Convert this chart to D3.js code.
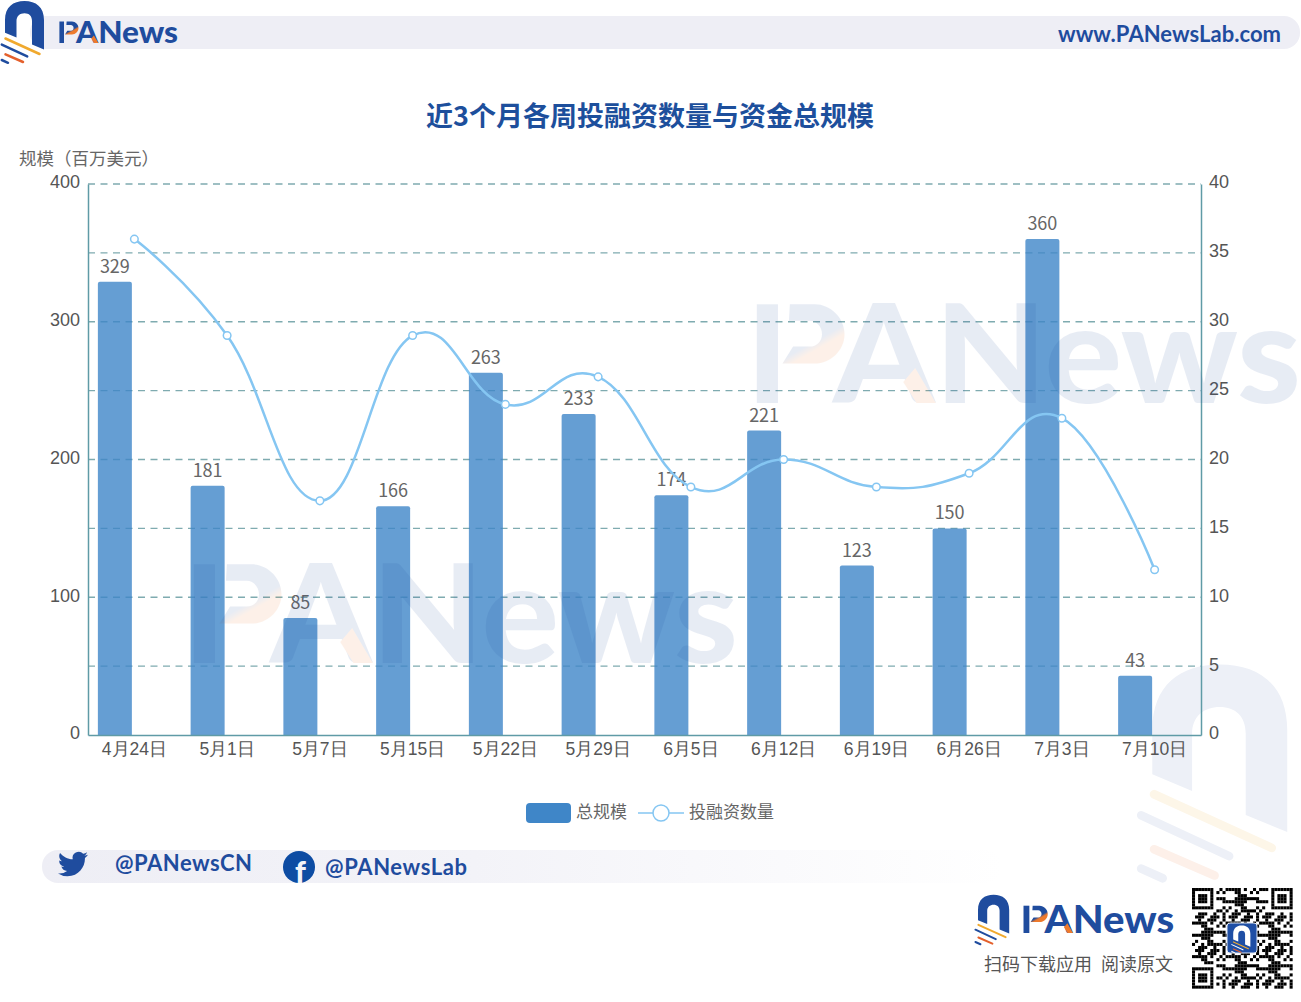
<!doctype html>
<html lang="zh">

<head>
    <meta charset="utf-8">
    <title>近3个月各周投融资数量与资金总规模</title>
    <style>
        html, body {
            margin: 0;
            padding: 0;
            background: white;
        }

        svg {
            display: block;
            font-family: 'Noto Sans CJK SC', sans-serif;
        }

        .axis text {
            font-size: 18px;
            fill: #555;
        }

        .axis.bottom text {
            font-size: 17.5px;
        }

        .axis path {
            stroke: #5f9ba6;
            stroke-width: 1.5;
        }
    </style>
</head>

<body>
    <svg id="chart" width="1301" height="1002"></svg>
    <script src="https://d3js.org/d3.v7.min.js"></script>
    <script>
        var categories = ["4月24日", "5月1日", "5月7日", "5月15日", "5月22日", "5月29日", "6月5日", "6月12日", "6月19日", "6月26日", "7月3日", "7月10日"];
        var totalScale = [329, 181, 85, 166, 263, 233, 174, 221, 123, 150, 360, 43];
        var dealCount = [36, 29, 17, 29, 24, 26, 18, 20, 18, 19, 23, 12];
        var leftTicks = [0, 100, 200, 300, 400];
        var rightTicks = [0, 5, 10, 15, 20, 25, 30, 35, 40];

        var blue = "#1f4c9e";
        var orange = "#ee7a2c";
        var svg = d3.select("#chart");
        var defs = svg.append("defs");

        var margin = { top: 184, right: 100, bottom: 267, left: 88 };
        var width = 1301 - margin.left - margin.right;
        var height = 1002 - margin.top - margin.bottom;

        var x = d3.scaleBand().domain(categories).range([0, width]);
        var yLeft = d3.scaleLinear().domain([0, 400]).range([height, 0]);
        var yRight = d3.scaleLinear().domain([0, 40]).range([height, 0]);

        // bars sit left of the category centre, the line points on it
        var barWidth = 34;
        var barShift = 19.5;

        function pointX(d) { return x(d) + x.bandwidth() / 2; }
        function barX(d) { return pointX(d) - barShift - barWidth / 2; }

        // logo arch and stripes, drawn in a 50 x 65 box
        function logo(parent, tx, ty, k, colors) {
            var g = parent.append("g")
                .attr("transform", "translate(" + tx + "," + ty + ") scale(" + k + ")");
            g.append("path")
                .attr("fill", colors[0])
                .attr("d", "M5 32.700 V20 C5 7 13 1 24.500 1 C36 1 44 7 44 20 V49.400 L32 44.500 V21 C32 16 29 13.300 24.500 13.300 C20 13.300 16.500 16 16.500 21 V37.600 Z");
            var stripes = [
                [5.500, 38.500, 39.500, 54, colors[1]],
                [1.800, 44.600, 27.200, 56.400, colors[0]],
                [5.500, 54.400, 23, 62, colors[2]],
                [1.800, 60, 8, 62.800, colors[0]]
            ];
            stripes.forEach(function (s) {
                g.append("line")
                    .attr("x1", s[0]).attr("y1", s[1])
                    .attr("x2", s[2]).attr("y2", s[3])
                    .attr("stroke", s[4])
                    .attr("stroke-width", 2.5)
                    .attr("stroke-linecap", "round");
            });
        }

        // bowl of the P turns from blue to orange along a diagonal
        var bowl = defs.append("linearGradient")
            .attr("id", "bowl")
            .attr("gradientUnits", "userSpaceOnUse")
            .attr("x1", 10.5).attr("y1", -16.3)
            .attr("x2", 15).attr("y2", -8.3);
        bowl.append("stop").attr("offset", "0.4").attr("stop-color", blue);
        bowl.append("stop").attr("offset", "0.6").attr("stop-color", orange);

        // PANews word: P is drawn, the rest is text. Box is 119 wide at k = 1
        function wordmark(parent, tx, baseline, k) {
            var g = parent.append("g").attr("transform", "translate(" + tx + "," + baseline + ") scale(" + k + ")");
            g.append("rect").attr("x", 0.400).attr("y", -21.500).attr("width", 4.600).attr("height", 21.500).attr("fill", blue);
            g.append("path")
                .attr("fill", "url(#bowl)")
                .attr("d", "M7.600 -21.500 H13 C16.500 -21.500 19.500 -18.500 19.500 -15 C19.500 -11.500 16.500 -8.600 13 -8.600 H6 L8.300 -12.300 H11.900 C13.500 -12.300 14.600 -13.500 14.600 -15 C14.600 -16.500 13.500 -17.900 11.900 -17.900 H7.400 Z");
            g.append("text")
                .attr("x", 17)
                .attr("font-family", "Lato, sans-serif")
                .attr("font-weight", 900)
                .attr("font-size", 30)
                .attr("fill", blue)
                .attr("textLength", 102)
                .attr("lengthAdjust", "spacingAndGlyphs")
                .text("ANews");
            g.append("path")
                .attr("fill", orange)
                .attr("d", "M32.300 -4.600 L34.900 -7.600 L39.400 0 L35.200 0 Z");
        }

        // header band
        svg.append("rect").attr("x", 30).attr("y", 16).attr("width", 1270).attr("height", 33).attr("rx", 16).attr("fill", "#eeeef5");
        logo(svg, 0, 0, 1, [blue, "#f0a92e", "#e4602c"]);
        wordmark(svg, 59, 43, 1);
        svg.append("text")
            .attr("x", 1281).attr("y", 42)
            .attr("text-anchor", "end")
            .attr("font-family", "Lato, sans-serif")
            .attr("font-weight", 700)
            .attr("font-size", 22)
            .attr("fill", blue)
            .attr("textLength", 223)
            .attr("lengthAdjust", "spacing")
            .text("www.PANewsLab.com");

        // big faint logo at the lower right
        logo(svg, 1135, 661, 3.46, ["#edf0f7", "#fdf6e8", "#fdf0e9"]);

        // title
        svg.append("text")
            .attr("x", 650).attr("y", 126)
            .attr("text-anchor", "middle")
            .attr("font-weight", 700)
            .attr("font-size", 27)
            .attr("fill", "#1d4f9c")
            .text("近3个月各周投融资数量与资金总规模");

        svg.append("text")
            .attr("x", 19).attr("y", 165)
            .attr("font-size", 17.500)
            .attr("fill", "#666")
            .text("规模（百万美元）");

        var plot = svg.append("g").attr("transform", "translate(" + margin.left + "," + margin.top + ")");

        plot.selectAll(".grid")
            .data(rightTicks.slice(1))
            .join("line")
            .attr("class", "grid")
            .attr("x1", 0)
            .attr("x2", width)
            .attr("y1", function (d) { return yRight(d); })
            .attr("y2", function (d) { return yRight(d); })
            .attr("stroke", "#7fabb0")
            .attr("stroke-width", 1.4)
            .attr("stroke-dasharray", "7 5.500");

        plot.selectAll(".bar")
            .data(categories)
            .join("path")
            .attr("class", "bar")
            .attr("fill", "#3f86c8")
            .attr("fill-opacity", 0.8)
            .attr("d", function (d, i) {
                var bx = barX(d), top = yLeft(totalScale[i]);
                return "M" + bx + " " + height + "V" + (top + 2) + "Q" + bx + " " + top + " " + (bx + 2) + " " + top +
                    "H" + (bx + barWidth - 2) + "Q" + (bx + barWidth) + " " + top + " " + (bx + barWidth) + " " + (top + 2) + "V" + height + "Z";
            });

        plot.selectAll(".bar-label")
            .data(categories)
            .join("text")
            .attr("class", "bar-label")
            .attr("x", function (d) { return barX(d) + barWidth / 2; })
            .attr("y", function (d, i) { return yLeft(totalScale[i]) - 9; })
            .attr("text-anchor", "middle")
            .attr("font-size", 18)
            .attr("fill", "#666")
            .text(function (d, i) { return totalScale[i]; });

        var line = d3.line()
            .x(function (d, i) { return pointX(categories[i]); })
            .y(function (d) { return yRight(d); })
            .curve(d3.curveCardinal.tension(-0.3));

        plot.append("path")
            .datum(dealCount)
            .attr("fill", "none")
            .attr("stroke", "#85c6f2")
            .attr("stroke-width", 2.5)
            .attr("d", line);

        plot.selectAll(".point")
            .data(dealCount)
            .join("circle")
            .attr("class", "point")
            .attr("cx", function (d, i) { return pointX(categories[i]); })
            .attr("cy", function (d) { return yRight(d); })
            .attr("r", 3.8)
            .attr("fill", "white")
            .attr("stroke", "#85c6f2")
            .attr("stroke-width", 1.5);

        plot.append("g")
            .attr("class", "axis bottom")
            .attr("transform", "translate(0," + height + ")")
            .call(d3.axisBottom(x).tickSize(0).tickPadding(8));

        plot.append("g")
            .attr("class", "axis side")
            .call(d3.axisLeft(yLeft).tickValues(leftTicks).tickSize(0).tickPadding(8));

        plot.append("g")
            .attr("class", "axis side")
            .attr("transform", "translate(" + width + ",0)")
            .call(d3.axisRight(yRight).tickValues(rightTicks).tickSize(0).tickPadding(8));

        plot.selectAll(".side text").attr("dy", "0.22em");

        // legend
        var legend = svg.append("g");
        legend.append("rect").attr("x", 526).attr("y", 803).attr("width", 45).attr("height", 20).attr("rx", 4).attr("fill", "#3f86c8");
        legend.append("text").attr("x", 576).attr("y", 818).attr("font-size", 17).attr("fill", "#666").text("总规模");
        legend.append("line").attr("x1", 638).attr("x2", 684).attr("y1", 813).attr("y2", 813).attr("stroke", "#85c6f2").attr("stroke-width", 1.5);
        legend.append("circle").attr("cx", 661).attr("cy", 813).attr("r", 8).attr("fill", "white").attr("stroke", "#85c6f2").attr("stroke-width", 1.5);
        legend.append("text").attr("x", 689).attr("y", 818).attr("font-size", 17).attr("fill", "#666").text("投融资数量");

        // footer social band
        var fade = defs.append("linearGradient").attr("id", "fade");
        fade.append("stop").attr("offset", "0").attr("stop-color", "#eeeef5");
        fade.append("stop").attr("offset", "0.45").attr("stop-color", "#f3f3f8");
        fade.append("stop").attr("offset", "1").attr("stop-color", "#ffffff");
        svg.append("rect").attr("x", 42).attr("y", 850).attr("width", 960).attr("height", 33).attr("rx", 16).attr("fill", "url(#fade)");

        svg.append("path")
            .attr("transform", "translate(58,849) scale(1.25)")
            .attr("fill", "#1f4c9e")
            .attr("d", "M23.953 4.57a10 10 0 01-2.825.775 4.958 4.958 0 002.163-2.723c-.951.555-2.005.959-3.127 1.184a4.92 4.92 0 00-8.384 4.482C7.69 8.095 4.067 6.13 1.64 3.162a4.822 4.822 0 00-.666 2.475c0 1.71.87 3.213 2.188 4.096a4.904 4.904 0 01-2.228-.616v.06a4.923 4.923 0 003.946 4.827 4.996 4.996 0 01-2.212.085 4.936 4.936 0 004.604 3.417 9.867 9.867 0 01-6.102 2.105c-.39 0-.779-.023-1.17-.067a13.995 13.995 0 007.557 2.209c9.053 0 13.998-7.496 13.998-13.985 0-.21 0-.42-.015-.63A9.935 9.935 0 0024 4.59z");
        svg.append("text").attr("x", 115).attr("y", 871).attr("font-family", "Lato, sans-serif").attr("font-weight", 700).attr("font-size", 22).attr("fill", blue).attr("textLength", 137).text("@PANewsCN");

        svg.append("circle").attr("cx", 299).attr("cy", 867).attr("r", 16).attr("fill", "#0d4ca3");
        svg.append("text").attr("x", 295).attr("y", 883).attr("font-family", "Lato, sans-serif").attr("font-weight", 900).attr("font-size", 30).attr("fill", "#f3f3f8").text("f");
        svg.append("text").attr("x", 325).attr("y", 875).attr("font-family", "Lato, sans-serif").attr("font-weight", 700).attr("font-size", 22).attr("fill", blue).attr("textLength", 142).text("@PANewsLab");

        // footer brand
        logo(svg, 974, 894, 0.8, [blue, "#f0a92e", "#e4602c"]);
        wordmark(svg, 1023, 933, 1.27);
        svg.append("text").attr("x", 984).attr("y", 971).attr("font-size", 18).attr("fill", "#555").text("扫码下载应用");
        svg.append("text").attr("x", 1101).attr("y", 971).attr("font-size", 18).attr("fill", "#555").text("阅读原文");

        // QR code, decoration only
        var qr = svg.append("g").attr("transform", "translate(1192,888)");
        var n = 33, cell = 3.05;
        function finder(cx, cy) { return cx < 7 && cy < 7; }
        for (var r = 0; r < n; r++) {
            for (var c = 0; c < n; c++) {
                var inFinder = finder(c, r) || finder(n - 1 - c, r) || finder(c, n - 1 - r);
                var on = ((r * r * 7 + c * c * 13 + r * c * 5 + c * 3) % 11) < 6;
                if (inFinder) {
                    var fx = c < 7 ? c : n - 1 - c, fy = r < 7 ? r : n - 1 - r;
                    on = fx === 0 || fx === 6 || fy === 0 || fy === 6 || (fx >= 2 && fx <= 4 && fy >= 2 && fy <= 4);
                } else if ((c === 7 && (r < 8 || r > n - 9)) || (r === 7 && (c < 8 || c > n - 9)) || (c === n - 8 && r < 8) || (r === n - 8 && c < 8)) {
                    on = false;
                }
                if (on) qr.append("rect").attr("x", c * cell).attr("y", r * cell).attr("width", cell).attr("height", cell).attr("fill", "#000");
            }
        }
        qr.append("rect").attr("x", 35).attr("y", 35).attr("width", 30).attr("height", 30).attr("rx", 3).attr("fill", "#1f4fa5").attr("stroke", "#dfe6f2");
        logo(qr, 39, 37, 0.44, ["#ffffff", "#f0a92e", "#e4602c"]);

        // PANews watermarks lie over the chart
        var marks = [[755, 403], [192, 663]];
        marks.forEach(function (m) {
            var g = svg.append("g").attr("opacity", 0.1);
            wordmark(g, m[0], m[1], 4.59);
        });
    </script>
</body>

</html>
